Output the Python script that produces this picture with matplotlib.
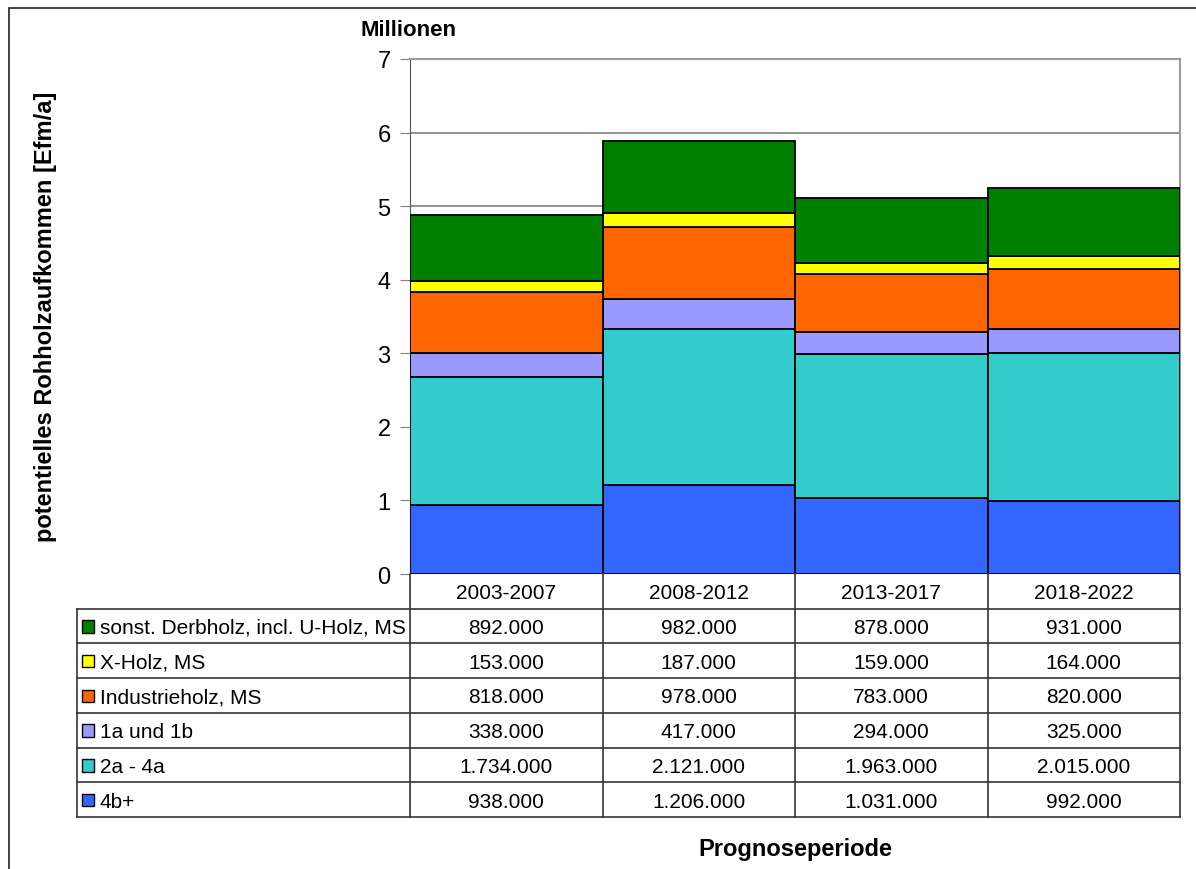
import matplotlib
matplotlib.use('Agg')
import numpy as np
from matplotlib import pyplot as plt
from matplotlib.patches import Rectangle

plt.rcParams['font.family'] = ['Liberation Sans', 'DejaVu Sans']

# Daten (Efm/a in Tausend)
perioden = ['2003-2007', '2008-2012', '2013-2017', '2018-2022']
sorten = ['4b+', '2a - 4a', '1a und 1b', 'Industrieholz, MS', 'X-Holz, MS',
          'sonst. Derbholz, incl. U-Holz, MS']
v_4b = [938, 1206, 1031, 992]
v_2a4a = [1734, 2121, 1963, 2015]
v_1a1b = [338, 417, 294, 325]
v_ind = [818, 978, 783, 820]
v_x = [153, 187, 159, 164]
v_sonst = [892, 982, 878, 931]
farben = ['#3366FF', '#33CCCC', '#9999FF', '#FF6600', '#FFFF00', '#008000']

werte = [v_4b, v_2a4a, v_1a1b, v_ind, v_x, v_sonst]

W, H = 1196, 870
fig = plt.figure(figsize=(W / 100, H / 100), dpi=100)

def fx(px):
    return px / W

def fy(py):
    return 1 - py / H

# Rahmen um das Diagramm
fig.patches.append(Rectangle((fx(9), -0.1), 1.2, fy(9) + 0.1, transform=fig.transFigure,
                             fill=False, edgecolor='#222222', lw=1.2, clip_on=False))

# Balkendiagramm
ax = fig.add_axes([fx(410), fy(575), fx(1180) - fx(410), fy(60) - fy(575)])
x = np.arange(len(perioden))
unten = np.zeros(len(perioden))
for w, c in zip(werte, farben):
    w = np.array(w) / 1000.0
    ax.bar(x, w, width=1.0, bottom=unten, color=c, edgecolor='black', lw=1.3, zorder=3)
    unten += w

ax.set_xlim(-0.5, 3.5)
ax.set_ylim(0, 7)
ax.set_yticks(range(8))
ax.yaxis.grid(True, color='#808080', lw=1.2, zorder=0)
ax.set_xticks([])
ax.tick_params(axis='y', direction='out', length=7, color='#808080', labelsize=17, pad=7)
for s in ['top', 'right']:
    ax.spines[s].set_color('#999999')
    ax.spines[s].set_linewidth(1.5)
ax.spines['left'].set_color('#555555')
ax.spines['bottom'].set_visible(False)

fig.text(fx(408), fy(30), 'Millionen', ha='center', va='center', fontsize=16, fontweight='bold')
fig.text(fx(46), fy(317), 'potentielles Rohholzaufkommen [Efm/a]', rotation=90,
         ha='center', va='center', fontsize=17, fontweight='bold')
fig.text(fx(795), fy(850), 'Prognoseperiode', ha='center', va='center', fontsize=17, fontweight='bold')

# Datentabelle
links = (77 - 410) / 192.5
tax = fig.add_axes([fx(77), fy(818), fx(1180) - fx(77), fy(575) - fy(818)])
tax.set_xlim(links, 4)
tax.set_ylim(7, 0)
tax.axis('off')

fs = 15
n_rows = len(sorten) + 1
# Kopfzeile
for i, p in enumerate(perioden):
    tax.text(i + 0.5, 0.52, p, ha='center', va='center', fontsize=fs)
for i in range(5):
    tax.plot([i, i], [0, 7], color='#333333', lw=1.2, clip_on=False)
# horizontale Linien
for r in range(1, n_rows + 1):
    tax.plot([links, 4], [r, r], color='#333333', lw=1.2, clip_on=False)
tax.plot([links, links], [1, 7], color='#333333', lw=1.2, clip_on=False)

reihen = list(zip(sorten, werte, farben))[::-1]
for r, (name, w, c) in enumerate(reihen, start=1):
    tax.add_patch(Rectangle((links + 0.028, r + 0.33), 0.062, 0.36, facecolor=c,
                            edgecolor='black', lw=1.0, clip_on=False))
    tax.text(links + 0.118, r + 0.54, name, ha='left', va='center', fontsize=fs)
    for i, v in enumerate(w):
        s = f'{v * 1000:,}'.replace(',', '.')
        tax.text(i + 0.5, r + 0.54, s, ha='center', va='center', fontsize=fs)

fig.savefig('out.png', dpi=100)
